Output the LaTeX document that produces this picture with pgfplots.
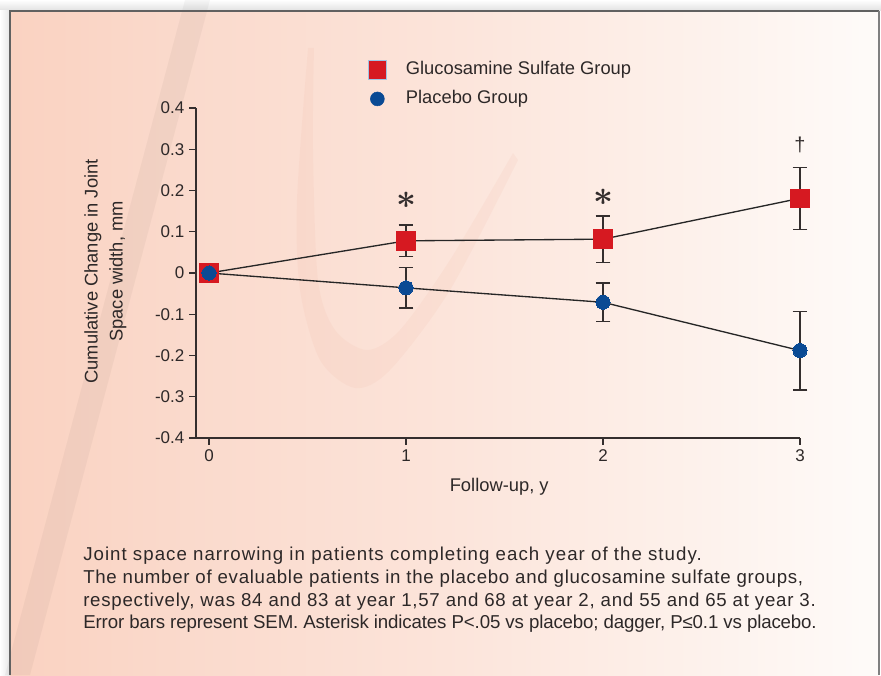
\documentclass[border=0pt]{standalone}
\usepackage{pgfplots}
\pgfplotsset{compat=1.18}
\usepackage{amsmath}
\usepackage{fontspec}
\setmainfont{Liberation Sans}
\newfontfamily\capfontA[LetterSpace=5.5]{Liberation Sans}
\newfontfamily\capfontB[LetterSpace=3.8]{Liberation Sans}
\newfontfamily\capfontC[LetterSpace=4.0]{Liberation Sans}
\newfontfamily\capfontD[LetterSpace=-0.7]{Liberation Sans}
\definecolor{gsred}{RGB}{214,25,33}
\definecolor{pblue}{RGB}{10,74,148}
\definecolor{axgray}{RGB}{52,46,46}
\definecolor{txt}{RGB}{45,40,40}
\definecolor{lblue}{RGB}{160,196,226}
\definecolor{bgA}{RGB}{250,210,193}
\definecolor{bgB}{RGB}{250,217,203}
\definecolor{bgC}{RGB}{252,228,218}
\definecolor{bgD}{RGB}{253,238,231}
\definecolor{bgE}{RGB}{254,251,249}
\definecolor{wm}{RGB}{240,180,160}
\pgfdeclarehorizontalshading{bgshade}{100bp}{color(0bp)=(bgA); color(25bp)=(bgA); color(34bp)=(bgB); color(50bp)=(bgC); color(61bp)=(bgD); color(75bp)=(bgE); color(100bp)=(bgE)}
\begin{document}
\begin{tikzpicture}[x=0.75pt,y=0.75pt]
\path[use as bounding box] (0,0) rectangle (881,675);
\fill[white] (0,0) rectangle (881,675);
\shade[top color=white, bottom color=black!12] (0,664) rectangle (881,675);
\shade[left color=white, right color=black!10] (0,0) rectangle (10,664);
\shade[shading=bgshade] (10,0) rectangle (879,664);
% watermark
\fill[wm, opacity=0.12] plot[smooth] coordinates {(308,627) (297,475) (300,385) (320,315) (355,287) (390,305) (450,385) (518,515)}
  -- plot[smooth] coordinates {(513,522) (450,415) (400,345) (367,325) (335,345) (318,395) (313,525) (314,627)} -- cycle;
\fill[black, opacity=0.035] (185,675) -- (210,675) -- (30,0) -- (5,0) -- cycle;
% border
\draw[black!62, line width=1.9pt] (10,0) -- (10,664) -- (879,664);
\draw[black!50, line width=1.1pt] (879,664) -- (879,0);
\begin{axis}[
  at={(147pt,177.75pt)}, anchor=south west,
  scale only axis, width=453pt, height=247.5pt,
  xmin=-0.066, xmax=3, ymin=-0.4, ymax=0.4,
  axis x line*=bottom, axis y line*=left,
  axis line style={-, draw=axgray, line width=1pt},
  xtick={0,1,2,3}, xticklabels={0,1,2,3},
  ytick={-0.4,-0.3,-0.2,-0.1,0,0.1,0.2,0.3,0.4},
  yticklabels={-0.4,-0.3,-0.2,-0.1,0,0.1,0.2,0.3,0.4},
  tick align=outside, major tick length=5.2pt,
  tick style={draw=axgray, line width=1pt},
  tick label style={font=\fontsize{12.75}{15}\selectfont, text=txt},
  /pgf/number format/assume math mode=true,
  xlabel={Follow-up, y},
  ylabel={Cumulative Change in Joint\\Space width, mm},
  label style={font=\fontsize{13.75}{18.75}\selectfont, text=txt},
  ylabel style={at={(axis description cs:-0.150,0.505)}, anchor=center, align=center},
  xlabel style={at={(axis description cs:0.502,-0.148)}, anchor=center},
  legend style={at={(axis description cs:0.278,1.158)}, anchor=north west, draw=none, fill=none,
    font=\fontsize{13.75}{16}\selectfont, text=txt, row sep=4.6pt, column sep=12.5pt,
    nodes={inner sep=2pt, text height=10pt, text depth=3pt}},
  legend cell align=left,
  clip=false,
]
\addlegendimage{only marks, mark=square*, mark size=6.9pt, mark options={fill=gsred, draw=lblue, line width=0.8pt}}
\addlegendentry{Glucosamine Sulfate Group}
\addlegendimage{only marks, mark=*, mark size=5.2pt, mark options={fill=pblue, draw=pblue}}
\addlegendentry{Placebo Group}
% error bars (drawn beneath markers)
\addplot[draw=none, forget plot, error bars/.cd, y dir=both, y explicit,
  error bar style={draw=axgray, line width=1.15pt},
  error mark options={rotate=90, draw=axgray, mark size=5.6pt, line width=1.15pt}]
  coordinates {(1,0.078) +- (0,0.038) (2,0.082) +- (0,0.056) (3,0.181) +- (0,0.075)};
\addplot[draw=none, forget plot, error bars/.cd, y dir=both, y explicit,
  error bar style={draw=axgray, line width=1.15pt},
  error mark options={rotate=90, draw=axgray, mark size=5.6pt, line width=1.15pt}]
  coordinates {(1,-0.036) +- (0,0.049) (2,-0.071) +- (0,0.047) (3,-0.188) +- (0,0.095)};
% lines + markers
\addplot[forget plot, draw=black!85, line width=1pt, mark=square*, mark size=7.0pt,
  mark options={fill=gsred, draw=gsred, line width=0pt}]
  coordinates {(0,0) (1,0.078) (2,0.082) (3,0.181)};
\addplot[forget plot, draw=black!85, line width=1pt, mark=*, mark size=5.3pt,
  mark options={fill=pblue, draw=pblue, line width=0pt}]
  coordinates {(0,0) (1,-0.036) (2,-0.071) (3,-0.188)};
\node[text=axgray] at (axis cs:1,0.177) {\scalebox{2.6}{$\boldsymbol{\ast}$}};
\node[text=axgray] at (axis cs:2,0.184) {\scalebox{2.6}{$\boldsymbol{\ast}$}};
\node[text=axgray, font=\fontsize{15}{15}\selectfont] at (axis cs:3,0.31) {\textdagger};
\end{axis}
\begin{scope}[every node/.style={anchor=base west, inner sep=0, text=txt}]
\node[font=\capfontA\fontsize{14}{17}\selectfont] at (83,114.3) {Joint space narrowing in patients completing each year of the study.};
\node[font=\capfontB\fontsize{14}{17}\selectfont] at (83,91.7) {The number of evaluable patients in the placebo and glucosamine sulfate groups,};
\node[font=\capfontC\fontsize{14}{17}\selectfont] at (83,69) {respectively, was 84 and 83 at year 1,57 and 68 at year 2, and 55 and 65 at year 3.};
\node[font=\capfontD\fontsize{14}{17}\selectfont] at (83,46.7) {Error bars represent SEM. Asterisk indicates P<.05 vs placebo; dagger, P≤0.1 vs placebo.};
\end{scope}
\end{tikzpicture}
\end{document}
